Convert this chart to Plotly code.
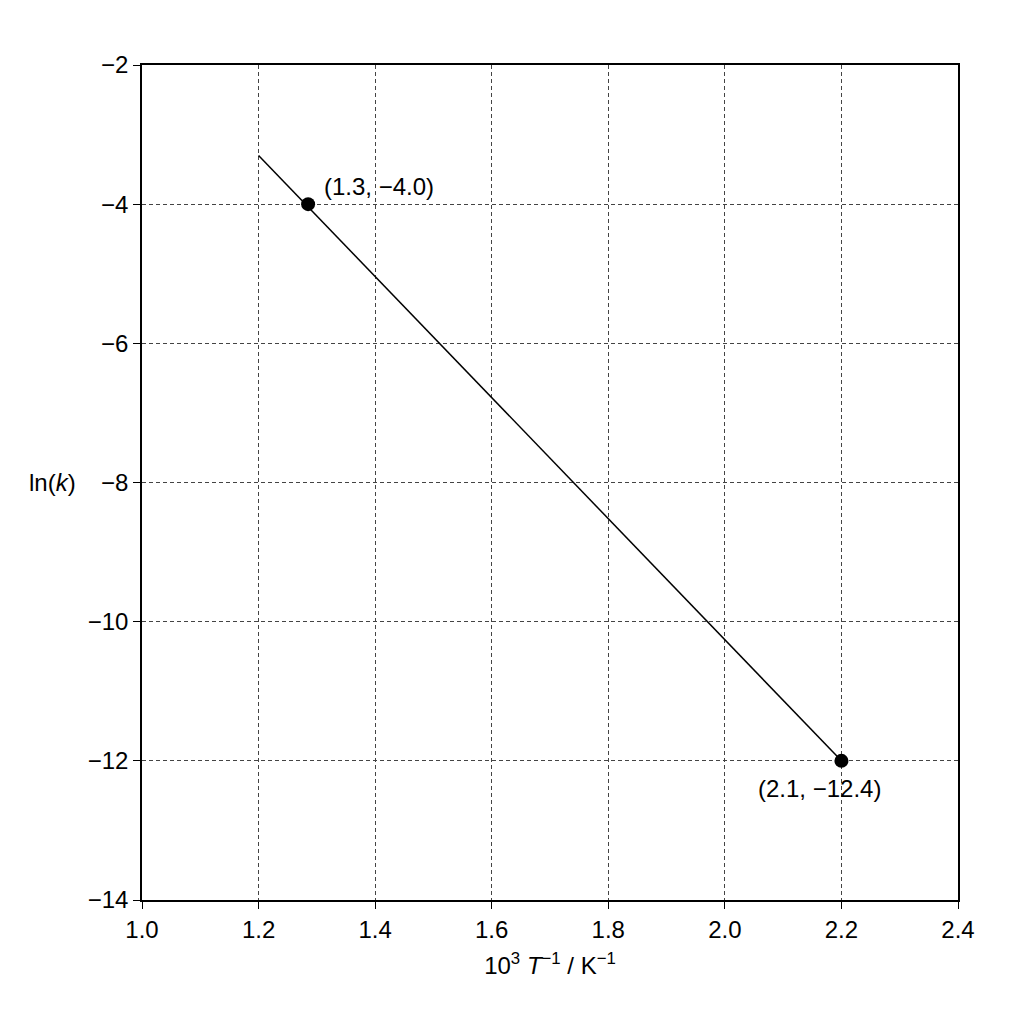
import plotly.graph_objects as go

# fitted line endpoints
line_x = [1.2, 2.2]
line_y = [-3.3, -12.0]
# data points
pt_x = [1.285, 2.2]
pt_y = [-4.0, -12.0]
pt_labels = ["(1.3, −4.0)", "(2.1, −12.4)"]

x_ticks = [1.0, 1.2, 1.4, 1.6, 1.8, 2.0, 2.2, 2.4]
y_ticks = [-14, -12, -10, -8, -6, -4, -2]

fig = go.Figure()
fig.add_trace(go.Scatter(x=line_x, y=line_y, mode="lines",
                         line=dict(color="black", width=1.5)))
fig.add_trace(go.Scatter(x=pt_x, y=pt_y, mode="markers",
                         marker=dict(color="black", size=14)))

fig.add_annotation(x=pt_x[0], y=pt_y[0], text=pt_labels[0], showarrow=False,
                   xanchor="left", yanchor="bottom", xshift=14, yshift=2,
                   font=dict(size=24))
fig.add_annotation(x=pt_x[1], y=pt_y[1], text=pt_labels[1], showarrow=False,
                   xanchor="center", yanchor="top", xshift=-22, yshift=-12,
                   font=dict(size=24))
fig.add_annotation(x=-0.11, y=0.5, xref="paper", yref="paper", text="ln(<i>k</i>)",
                   xanchor="center", yanchor="middle", showarrow=False,
                   font=dict(size=24))

axis = dict(showline=True, linecolor="black", linewidth=1.5, mirror=True,
            ticks="outside", ticklen=7, tickcolor="black",
            showgrid=True, gridcolor="#444", griddash="4px,3px", gridwidth=0.8,
            zeroline=False, tickfont=dict(size=24))
fig.update_xaxes(range=[1.0, 2.4], tickvals=x_ticks,
                 ticktext=[f"{v:.1f}" for v in x_ticks],
                 title=dict(text="10<sup>3</sup> <i>T</i><sup>−1</sup> / K<sup>−1</sup>",
                            font=dict(size=24), standoff=16), **axis)
fig.update_yaxes(range=[-14, -2], tickvals=y_ticks,
                 ticktext=[str(v).replace("-", "−") for v in y_ticks], **axis)

fig.update_layout(width=1024, height=1024, showlegend=False,
                  plot_bgcolor="white", paper_bgcolor="white",
                  font=dict(family="Liberation Sans, Arial", size=24, color="black"),
                  margin=dict(l=134, r=74, t=57, b=132))
fig.write_html("out.html")
